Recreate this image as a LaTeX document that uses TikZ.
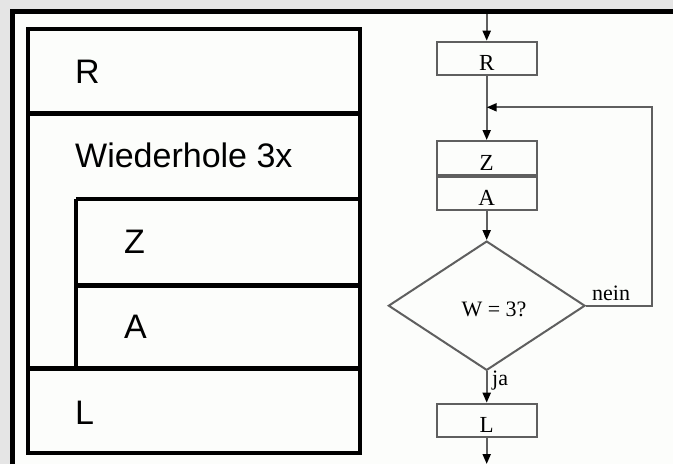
\documentclass[tikz,border=0pt]{standalone}
\usepackage{fontspec}
\setmainfont{Liberation Serif}
\newfontfamily\arialfont{Liberation Sans}
\usetikzlibrary{arrows.meta,shapes.geometric}
\definecolor{margingrey}{RGB}{229,229,229}
\definecolor{paper}{RGB}{252,253,251}
\definecolor{flowgrey}{RGB}{95,95,95}
\tikzset{
  struct/.style={line width=4pt, draw=black},
  sep/.style={line width=5.5pt, draw=black},
  stext/.style={anchor=base west, inner sep=0pt, font=\arialfont\fontsize{34}{40}\selectfont},
  fbox/.style={draw=flowgrey, line width=2pt, minimum width=100pt, inner sep=0pt,
     text height=29pt, text depth=4.5pt, font=\fontsize{23}{27}\selectfont},
  fline/.style={draw=flowgrey, line width=2pt},
  farrow/.style={fline, -{Triangle[length=10pt,width=8pt,color=black]}},
  flabel/.style={inner sep=0pt, anchor=base west, font=\fontsize{22}{26}\selectfont},
}
\begin{document}
\begin{tikzpicture}[x=1pt,y=-1pt]
\useasboundingbox (0,0) rectangle (673,464);
\fill[margingrey] (0,0) rectangle (673,464);
\fill[paper] (12.5,11.75) rectangle (673,464);
\draw[line width=5pt, black] (12.5,464) -- (12.5,11.75) -- (673,11.75);

% ---- Struktogramm ----
\draw[struct] (28,29) rectangle (360,453);
\draw[sep] (28,113.5) -- (360,113.5);
\draw[struct] (76,198.5) -- (360,198.5);
\draw[struct] (76,198.5) -- (76,368.5);
\draw[line width=5pt] (76,285) -- (360,285);
\draw[sep] (28,368.5) -- (360,368.5);
\node[stext] (sR) at (75,83) {R};
\node[stext] (sW) at (75,167) {Wiederhole 3x};
\node[stext] (sZ) at (124,253) {Z};
\node[stext] (sA) at (124,338) {A};
\node[stext] (sL) at (75,424) {L};

% ---- Flussdiagramm ----
\coordinate (top) at (486.7,14);
\node[fbox, minimum height=33.3pt, anchor=north] (R) at (486.7,40.7) {R};
\coordinate (join) at (486.7,107.3);
\node[fbox, anchor=north] (Z) at (486.7,140) {Z};
\node[fbox, anchor=north] (A) at (Z.south) {A};
\node[draw=flowgrey, line width=2pt, diamond, inner sep=0pt,
      minimum width=196.7pt, minimum height=129.3pt] (D) at (486.7,305.7) {};
\node[inner sep=0pt, anchor=base, font=\fontsize{22}{26}\selectfont] (Dt) at (494,316.7) {W = 3?};
\node[fbox, anchor=north] (L) at (486.7,402.7) {L};
\coordinate (bottom) at (486.7,464);
\coordinate (loopA) at (651.7,305.7);

\draw[farrow] (top) -- (R.north);
\draw[farrow] (R.south) -- (Z.north);
\draw[farrow] (A.south) -- (D.north);
\draw[farrow] (D.south) -- (L.north);
\draw[farrow] (L.south) -- (bottom);
\draw[farrow] (D.east) -- (loopA) |- (join);
\node[flabel] (nein) at (592,300) {nein};
\node[flabel] (ja) at (492,385) {ja};
\end{tikzpicture}
\end{document}
